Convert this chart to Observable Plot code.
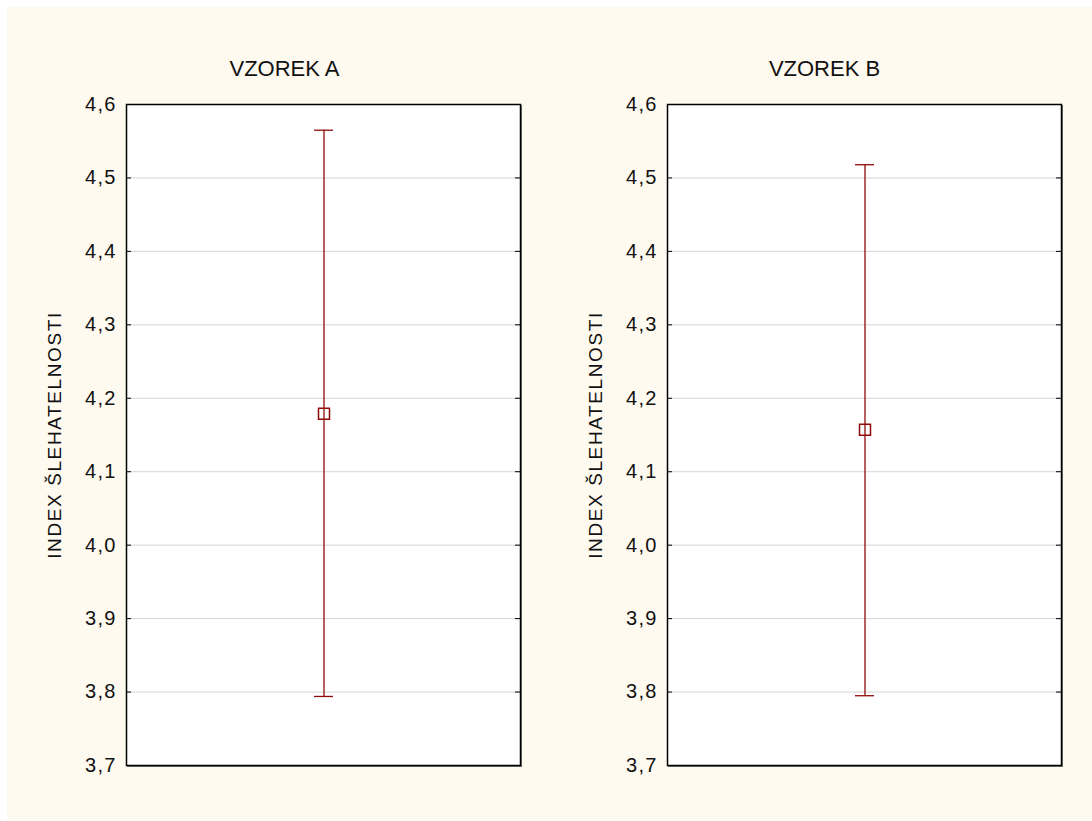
<!DOCTYPE html>
<html><head><meta charset="utf-8">
<script src="https://cdn.jsdelivr.net/npm/d3@7"></script>
<script src="https://cdn.jsdelivr.net/npm/@observablehq/plot@0.6"></script>
<style>
body{margin:0;background:#fff;}
#bg{position:absolute;left:7px;top:7px;width:1085px;height:814px;background:#fffaf0;}
.panel{position:absolute;top:7px;}
</style></head>
<body>
<div id="bg"></div>
<div id="a" class="panel" style="left:7px"></div>
<div id="b" class="panel" style="left:547px"></div>
<script>
const samples = ["VZOREK A", "VZOREK B"];
const means = [4.179, 4.157];
const upper = [4.565, 4.518];
const lower = [3.794, 3.795];
const yTicks = [3.7, 3.8, 3.9, 4.0, 4.1, 4.2, 4.3, 4.4, 4.5, 4.6];
const yLabel = "INDEX ŠLEHATELNOSTI";
const fmt = d => d.toFixed(1).replace(".", ",");
const red = "#8e0a0a";

function panel(i, ml, mr, w, tdx) {
  const d = [{s: samples[i], m: means[i], hi: upper[i], lo: lower[i]}];
  const fw = w - ml - mr;
  const inner = yTicks.slice(1, -1);
  const svg = Plot.plot({
    width: w, height: 814,
    marginLeft: ml, marginRight: mr, marginTop: 97, marginBottom: 56,
    style: {background: "transparent", fontFamily: "Liberation Sans, Arial, sans-serif", color: "#000"},
    x: {type: "band", domain: [samples[i]], padding: 0.908, axis: null},
    y: {domain: [3.7, 4.6], label: null, axis: null},
    marks: [
      Plot.frame({fill: "white", stroke: "#777", dx: 1, dy: 1}),
      Plot.frame({fill: "white"}),
      Plot.gridY(inner, {stroke: "#d4d4d4", strokeOpacity: 1}),
      Plot.axisY(yTicks, {anchor: "left", tickSize: 0, tickPadding: 10, tickFormat: fmt, fontSize: 20, fill: "#111", label: null}),
      Plot.tickY(inner, {y: d => d, insetRight: fw - 5, stroke: "black"}),
      Plot.tickY(inner, {y: d => d, insetLeft: fw - 5, stroke: "black"}),
      Plot.ruleX(d, {x: "s", y1: "lo", y2: "hi", stroke: red, strokeWidth: 1.3}),
      Plot.tickY(d, {x: "s", y: "hi", stroke: red, strokeWidth: 1.3}),
      Plot.tickY(d, {x: "s", y: "lo", stroke: red, strokeWidth: 1.3}),
      Plot.dot(d, {x: "s", y: "m", symbol: "square", r: 6.2, stroke: red, strokeWidth: 1.5, fill: "none"}),
      Plot.frame({stroke: "black", strokeWidth: 1.5}),
      Plot.text([samples[i]], {frameAnchor: "top", lineAnchor: "middle", textAnchor: "middle", dx: tdx, dy: -36, fontSize: 22, fill: "#111"}),
      Plot.text([yLabel], {frameAnchor: "left", textAnchor: "middle", lineAnchor: "middle", rotate: -90, dx: -72, fontSize: 19, fill: "#111"})
    ]
  });
  d3.select(svg).selectAll("text").each(function() {
    const t = this.textContent;
    if (t === yLabel) this.style.letterSpacing = "1.6px";
    else if (/^\d,\d$/.test(t)) this.style.letterSpacing = "1.2px";
  });
  return svg;
}
document.getElementById("a").append(panel(0, 119, 27, 540, -39));
document.getElementById("b").append(panel(1, 120, 31, 545, -40));
</script>
</body></html>
